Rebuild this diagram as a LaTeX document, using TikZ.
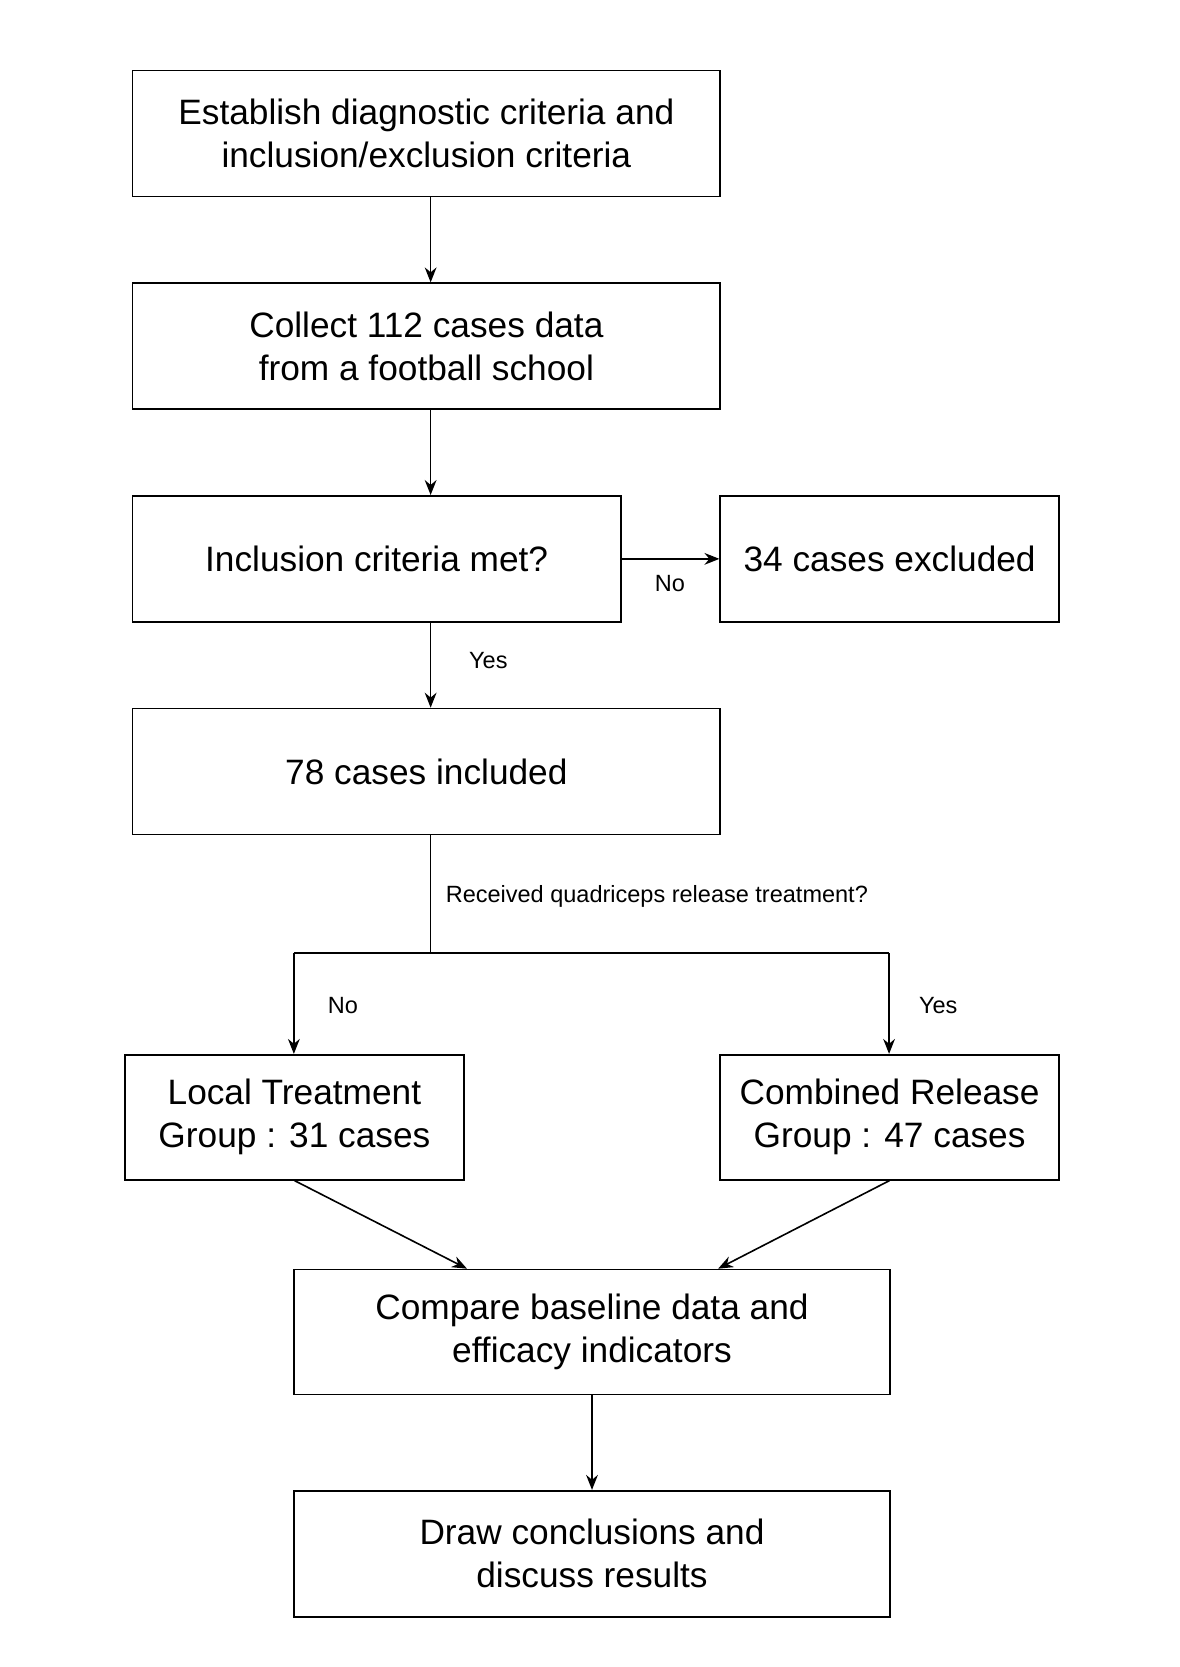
\documentclass[tikz,border=0pt]{standalone}
\usepackage{fontspec}
\setmainfont{Liberation Sans}
\usetikzlibrary{arrows.meta}
\begin{document}
\begin{tikzpicture}[x=1pt,y=-1pt,
  box/.style={draw,line width=1.5pt,inner sep=0pt,align=center,font=\fontsize{33}{40}\selectfont},
  arr/.style={line width=1.5pt,-{Stealth[length=14pt,width=11pt]}},
  lbl/.style={font=\fontsize{22}{26}\selectfont,inner sep=0pt}]
\useasboundingbox (0,0) rectangle (1103.6,1560);
\node[box,minimum width=550,minimum height=118] (b1) at (399,125) {Establish diagnostic criteria and\\inclusion/exclusion criteria};
\node[box,minimum width=550,minimum height=118] (b2) at (399,324) {Collect 112 cases data\\from a football school};
\node[box,minimum width=457,minimum height=118] (b3) at (352.5,523) {Inclusion criteria met?};
\node[box,minimum width=317,minimum height=118] (ex) at (832.5,523) {34 cases excluded};
\node[box,minimum width=550,minimum height=118] (b4) at (399,722) {78 cases included};
\node[box,minimum width=317,minimum height=117] (lt) at (275.5,1045.5) {Local Treatment\\Group : 31 cases};
\node[box,minimum width=317,minimum height=117] (cr) at (832.5,1045.5) {Combined Release\\Group : 47 cases};
\node[box,minimum width=558,minimum height=117] (cmp) at (554,1246.5) {Compare baseline data and\\efficacy indicators};
\node[box,minimum width=558,minimum height=118] (dc) at (554,1454) {Draw conclusions and\\discuss results};
\coordinate (bl) at (275,892);
\coordinate (br) at (832,892);
\coordinate (bm) at (403,892);
\draw[arr] (b1.south -| bm) -- (b2.north -| bm);
\draw[arr] (b2.south -| bm) -- (b3.north -| bm);
\draw[arr] (b3.south -| bm) -- (b4.north -| bm);
\draw[arr] (b3.east) -- (ex.west);
\draw[line width=1.5pt] (b4.south -| bm) -- (bm);
\draw[line width=1.5pt] (bl) -- (br);
\draw[arr] (bl) -- (lt.north -| bl);
\draw[arr] (br) -- (cr.north -| br);
\draw[arr] (lt.south) -- (cmp.north -| 437,0);
\draw[arr] (cr.south) -- (cmp.north -| 672,0);
\draw[arr] (cmp.south) -- (dc.north);
\node[lbl] (n1) at (627,546) {No};
\node[lbl] (y1) at (457,618) {Yes};
\node[lbl,anchor=west] (q) at (417,839) {Received quadriceps release treatment?};
\node[lbl] (n2) at (321,941) {No};
\node[lbl] (y2) at (878,941) {Yes};
\end{tikzpicture}
\end{document}
